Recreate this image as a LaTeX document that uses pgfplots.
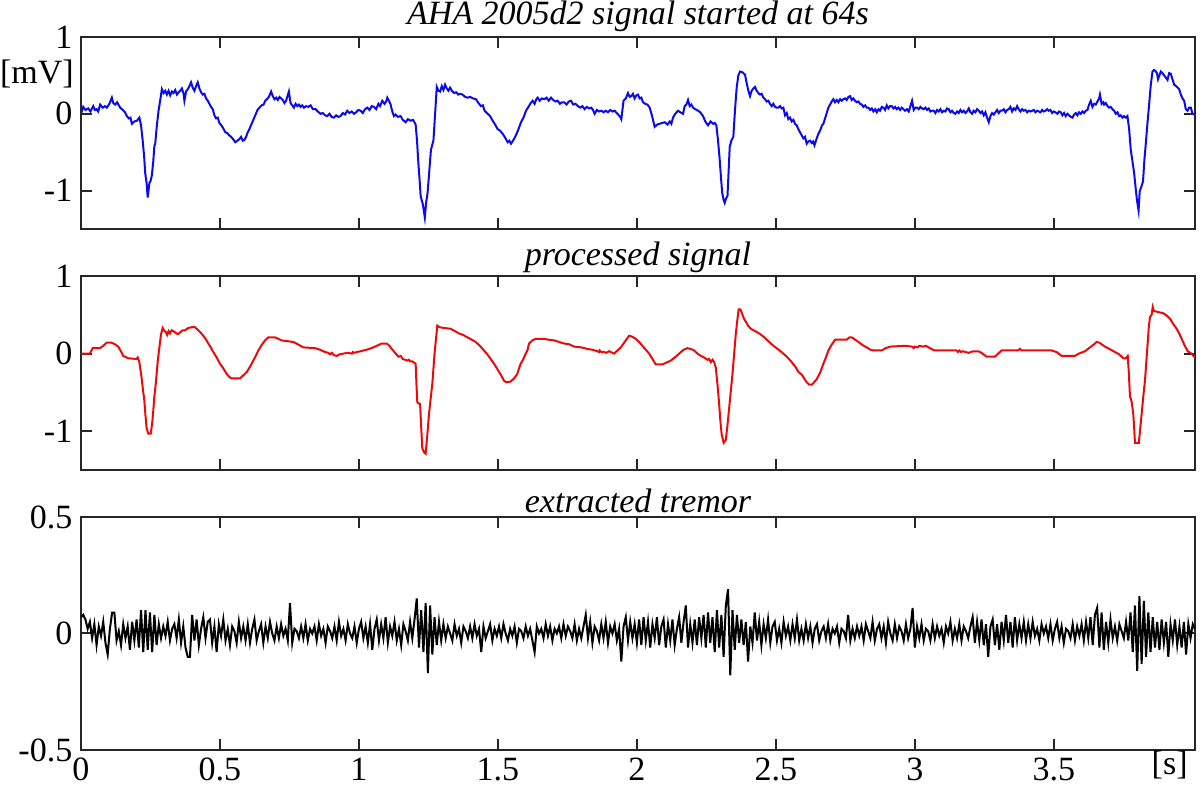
\documentclass[border=0pt]{standalone}
\usepackage{pgfplots}
\pgfplotsset{compat=1.18}
\usepackage{pgfplotstable}
\usepackage{fontspec}
\setmainfont{Liberation Serif}

\pgfplotstableread[row sep=\\,header=false]{
0.07\\ 0.08\\ 0.06\\ 0.02\\ 0.05\\ -0.02\\ 0.04\\ -0.05\\ 0.03\\ -0.01\\ 0.05\\ -0.04\\ -0.09\\ 0.02\\ 0.09\\ 0.09\\ -0.03\\ 0.01\\ -0.05\\ 0.04\\ -0.02\\ 0.03\\ -0.07\\ 0.05\\ -0.03\\
0.06\\ -0.06\\ 0.10\\ -0.08\\ 0.10\\ -0.07\\ 0.09\\ -0.08\\ 0.08\\ -0.05\\ 0.04\\ -0.02\\ 0.03\\ -0.01\\ 0.05\\ -0.03\\ 0.02\\ 0.04\\ -0.02\\ 0.06\\ -0.04\\ 0.03\\ -0.06\\ -0.10\\ -0.10\\
0.08\\ -0.03\\ 0.06\\ -0.05\\ 0.02\\ 0.07\\ -0.02\\ 0.05\\ 0.06\\ -0.04\\ 0.03\\ -0.08\\ 0.04\\ -0.01\\ 0.06\\ -0.03\\ 0.02\\ -0.05\\ 0.03\\ 0.01\\ -0.04\\ 0.05\\ -0.02\\ 0.03\\ -0.03\\
0.04\\ -0.04\\ 0.02\\ 0.06\\ -0.03\\ 0.01\\ 0.04\\ -0.04\\ 0.03\\ -0.02\\ 0.05\\ 0.00\\ -0.03\\ 0.03\\ -0.02\\ 0.04\\ -0.01\\ 0.02\\ -0.03\\ 0.13\\ -0.04\\ 0.02\\ 0.01\\ -0.02\\ 0.03\\
-0.02\\ 0.04\\ -0.03\\ 0.02\\ 0.00\\ 0.03\\ -0.03\\ 0.04\\ -0.01\\ 0.02\\ -0.04\\ 0.03\\ 0.01\\ -0.02\\ 0.03\\ -0.03\\ 0.05\\ -0.01\\ 0.02\\ -0.03\\ 0.04\\ 0.00\\ -0.02\\ 0.03\\ -0.04\\
0.02\\ 0.05\\ -0.02\\ 0.03\\ -0.04\\ 0.04\\ -0.07\\ 0.02\\ 0.06\\ -0.03\\ 0.04\\ -0.02\\ 0.07\\ -0.04\\ 0.03\\ -0.01\\ 0.05\\ -0.03\\ 0.02\\ -0.05\\ 0.04\\ 0.01\\ -0.03\\ 0.05\\ -0.02\\
0.06\\ 0.15\\ -0.06\\ 0.10\\ -0.08\\ 0.13\\ -0.17\\ 0.12\\ -0.09\\ 0.07\\ -0.05\\ 0.05\\ -0.03\\ 0.04\\ -0.02\\ 0.03\\ 0.00\\ -0.03\\ 0.04\\ -0.01\\ 0.02\\ -0.04\\ 0.03\\ 0.01\\ -0.02\\
0.03\\ -0.02\\ 0.04\\ -0.01\\ 0.02\\ -0.08\\ 0.03\\ -0.02\\ 0.01\\ 0.04\\ -0.03\\ 0.02\\ -0.01\\ 0.03\\ -0.02\\ 0.04\\ 0.00\\ -0.03\\ 0.02\\ -0.01\\ 0.03\\ -0.04\\ 0.02\\ 0.01\\ -0.02\\
0.03\\ -0.01\\ 0.02\\ -0.03\\ -0.08\\ 0.03\\ 0.00\\ 0.02\\ -0.02\\ 0.04\\ -0.01\\ 0.03\\ -0.03\\ 0.02\\ 0.00\\ 0.03\\ -0.02\\ 0.04\\ -0.01\\ 0.03\\ 0.01\\ -0.02\\ 0.04\\ -0.03\\ 0.02\\
-0.02\\ 0.03\\ 0.08\\ -0.02\\ 0.05\\ -0.04\\ 0.03\\ 0.01\\ -0.03\\ 0.04\\ -0.02\\ 0.05\\ -0.04\\ 0.03\\ 0.00\\ 0.04\\ -0.03\\ 0.02\\ -0.12\\ 0.03\\ 0.07\\ -0.03\\ 0.05\\ -0.02\\ 0.04\\
-0.04\\ 0.06\\ -0.05\\ 0.07\\ -0.03\\ 0.05\\ -0.06\\ 0.04\\ -0.02\\ 0.07\\ -0.05\\ 0.03\\ 0.06\\ -0.06\\ 0.04\\ -0.03\\ 0.06\\ -0.05\\ 0.02\\ 0.07\\ -0.04\\ 0.05\\ 0.12\\ -0.06\\ 0.04\\
-0.04\\ 0.06\\ -0.05\\ 0.07\\ -0.02\\ 0.08\\ -0.06\\ 0.09\\ -0.04\\ 0.07\\ -0.08\\ 0.10\\ -0.06\\ 0.08\\ -0.10\\ 0.12\\ 0.19\\ -0.18\\ 0.10\\ -0.07\\ 0.08\\ -0.04\\ 0.06\\ -0.05\\ 0.05\\
-0.12\\ 0.03\\ -0.04\\ 0.09\\ -0.03\\ 0.05\\ -0.05\\ 0.04\\ -0.02\\ 0.06\\ -0.04\\ 0.03\\ 0.05\\ -0.03\\ 0.02\\ -0.04\\ 0.05\\ -0.01\\ 0.03\\ -0.03\\ 0.04\\ -0.02\\ 0.06\\ -0.03\\ 0.02\\
-0.03\\ 0.04\\ -0.02\\ 0.03\\ -0.04\\ 0.02\\ 0.04\\ -0.03\\ 0.01\\ 0.03\\ -0.02\\ 0.04\\ -0.03\\ 0.02\\ 0.00\\ 0.03\\ -0.04\\ 0.02\\ 0.01\\ -0.02\\ 0.08\\ -0.03\\ 0.02\\ -0.02\\ 0.03\\
-0.01\\ 0.03\\ -0.03\\ 0.04\\ 0.01\\ -0.02\\ 0.05\\ -0.03\\ 0.02\\ 0.04\\ -0.02\\ 0.03\\ -0.04\\ 0.05\\ 0.00\\ -0.03\\ 0.04\\ -0.02\\ 0.03\\ 0.01\\ -0.03\\ 0.04\\ -0.02\\ 0.02\\ 0.11\\
-0.06\\ 0.03\\ -0.02\\ 0.04\\ -0.03\\ 0.02\\ 0.01\\ -0.03\\ 0.04\\ -0.02\\ 0.03\\ -0.01\\ 0.02\\ -0.04\\ 0.03\\ 0.00\\ 0.05\\ -0.03\\ 0.02\\ -0.02\\ 0.04\\ -0.03\\ 0.03\\ 0.01\\ -0.02\\
0.03\\ 0.07\\ -0.04\\ 0.05\\ -0.03\\ 0.06\\ -0.05\\ 0.04\\ -0.10\\ 0.03\\ 0.06\\ -0.05\\ 0.04\\ -0.07\\ 0.05\\ -0.03\\ 0.08\\ -0.04\\ 0.05\\ -0.06\\ 0.07\\ -0.03\\ 0.04\\ -0.02\\ 0.05\\
-0.03\\ 0.04\\ -0.02\\ 0.05\\ -0.01\\ 0.02\\ -0.03\\ 0.04\\ 0.00\\ 0.03\\ -0.02\\ 0.04\\ -0.03\\ 0.02\\ 0.05\\ -0.02\\ 0.03\\ -0.04\\ 0.02\\ 0.01\\ -0.02\\ 0.04\\ -0.03\\ 0.03\\ -0.01\\
0.04\\ -0.03\\ 0.05\\ -0.02\\ 0.07\\ -0.05\\ 0.08\\ 0.11\\ -0.06\\ 0.09\\ -0.07\\ 0.05\\ -0.04\\ 0.06\\ -0.02\\ 0.03\\ -0.03\\ 0.04\\ 0.01\\ -0.02\\ 0.05\\ -0.03\\ 0.09\\ -0.08\\ 0.12\\
-0.16\\ 0.16\\ -0.13\\ 0.14\\ -0.10\\ 0.09\\ -0.08\\ 0.07\\ -0.06\\ 0.05\\ -0.07\\ 0.06\\ -0.04\\ 0.05\\ -0.10\\ 0.04\\ -0.03\\ 0.06\\ -0.05\\ 0.03\\ -0.06\\ 0.05\\ -0.09\\ 0.04\\ -0.02\\
0.04\\ 0.02\\
}\tremor

\pgfplotsset{
  ecg/.style={
    scale only axis, width=557pt, xmin=0, xmax=4.008,
    axis line style={line width=1pt, black!85},
    every tick/.style={line width=1pt, black!85},
    major tick length=5.5pt,
    tick align=inside,
    xtick={0,0.5,1,1.5,2,2.5,3,3.5},
    /pgf/number format/assume math mode=true,
    yticklabel style={xshift=1.5pt},
    xticklabel style={yshift=2pt},
    title style={font=\itshape, at={(0.5,1)}, anchor=base},
  }
}

\begin{document}
\fontsize{17}{20}\selectfont
\begin{tikzpicture}
\useasboundingbox (-40.5pt,18.5pt) rectangle (559.5pt,-374pt);

\begin{axis}[ecg, at={(0,0)}, anchor=north west, height=96pt,
  ymin=-1.5, ymax=1, ytick={-1,0,1}, xticklabels={},
  title={AHA 2005d2 signal started at 64s}, title style={yshift=0pt}]
\addplot[color={rgb,255:red,10;green,10;blue,235}, line width=1pt] coordinates {
(0,0) (0.008,0.09) (0.016,0.05) (0.026,0.07) (0.034,0.03) (0.044,0.10) (0.050,0.05) (0.056,0.06) (0.062,0.03) (0.069,0.12)
(0.078,0.08) (0.086,0.10) (0.093,0.08) (0.102,0.13) (0.111,0.21) (0.116,0.14) (0.123,0.12) (0.130,0.15) (0.141,0.08) (0.150,0.05)
(0.158,0.02) (0.165,-0.03) (0.172,-0.06) (0.178,-0.05) (0.183,-0.13) (0.192,-0.10) (0.201,-0.09) (0.210,-0.05) (0.216,-0.15) (0.222,-0.35)
(0.227,-0.55) (0.231,-0.77) (0.236,-0.90) (0.240,-1.09) (0.243,-1.00) (0.246,-0.90) (0.250,-0.88) (0.255,-0.80) (0.260,-0.62) (0.264,-0.42)
(0.267,-0.39) (0.273,-0.15) (0.279,0.04) (0.286,0.20) (0.291,0.32) (0.297,0.27) (0.303,0.30) (0.309,0.25) (0.315,0.30) (0.321,0.24)
(0.327,0.29) (0.333,0.27) (0.339,0.31) (0.345,0.25) (0.351,0.28) (0.357,0.30) (0.363,0.33) (0.369,0.26) (0.372,0.17) (0.378,0.29)
(0.384,0.32) (0.390,0.36) (0.396,0.41) (0.402,0.34) (0.408,0.30) (0.414,0.36) (0.420,0.41) (0.426,0.33) (0.432,0.28) (0.438,0.25)
(0.444,0.26) (0.450,0.20) (0.456,0.17) (0.462,0.13) (0.468,0.09) (0.474,0.06) (0.480,-0.02) (0.486,-0.06) (0.492,-0.05) (0.498,-0.12)
(0.505,-0.15) (0.512,-0.19) (0.519,-0.24) (0.526,-0.25) (0.533,-0.28) (0.540,-0.30) (0.547,-0.33) (0.555,-0.37) (0.563,-0.35) (0.570,-0.33)
(0.576,-0.30) (0.582,-0.35) (0.588,-0.34) (0.594,-0.30) (0.600,-0.24) (0.607,-0.19) (0.614,-0.13) (0.621,-0.07) (0.628,-0.01) (0.635,0.05)
(0.642,0.08) (0.650,0.11) (0.657,0.12) (0.663,0.17) (0.669,0.19) (0.676,0.22) (0.684,0.29) (0.690,0.23) (0.696,0.19) (0.702,0.21)
(0.708,0.18) (0.714,0.22) (0.720,0.20) (0.726,0.18) (0.732,0.14) (0.738,0.17) (0.742,0.22) (0.748,0.29) (0.754,0.14) (0.760,0.11)
(0.766,0.08) (0.772,0.13) (0.778,0.10) (0.784,0.12) (0.790,0.09) (0.796,0.11) (0.802,0.08) (0.810,0.10) (0.818,0.09) (0.826,0.11)
(0.834,0.06) (0.844,0.06) (0.852,0.03) (0.862,0.00) (0.870,0.01) (0.878,-0.02) (0.886,-0.03) (0.894,0.00) (0.902,-0.04) (0.910,-0.05)
(0.918,-0.02) (0.926,-0.04) (0.934,-0.03) (0.942,0.01) (0.950,-0.01) (0.958,0.04) (0.966,0.01) (0.974,0.03) (0.982,0.00) (0.990,0.02)
(0.998,0.05) (1.006,0.04) (1.014,0.01) (1.022,0.06) (1.030,0.08) (1.038,0.05) (1.046,0.10) (1.054,0.09) (1.062,0.06) (1.070,0.13)
(1.076,0.10) (1.084,0.17) (1.092,0.13) (1.098,0.16) (1.102,0.21) (1.108,0.17) (1.114,0.12) (1.120,0.03) (1.126,-0.03) (1.132,-0.01)
(1.140,-0.04) (1.150,-0.03) (1.158,-0.08) (1.168,-0.11) (1.176,-0.07) (1.186,-0.09) (1.195,-0.08) (1.204,-0.14) (1.209,-0.35) (1.213,-0.60)
(1.218,-0.85) (1.222,-1.07) (1.230,-1.18) (1.237,-1.35) (1.242,-1.15) (1.247,-1.03) (1.253,-0.75) (1.259,-0.47) (1.264,-0.40) (1.268,-0.35)
(1.274,0.00) (1.280,0.35) (1.286,0.30) (1.292,0.29) (1.298,0.36) (1.304,0.31) (1.310,0.38) (1.316,0.33) (1.322,0.30) (1.328,0.34)
(1.334,0.30) (1.343,0.27) (1.350,0.28) (1.357,0.25) (1.364,0.26) (1.373,0.25) (1.382,0.22) (1.391,0.21) (1.400,0.22) (1.410,0.20)
(1.421,0.19) (1.430,0.14) (1.439,0.10) (1.446,0.11) (1.452,0.04) (1.463,0.00) (1.472,-0.03) (1.481,-0.09) (1.490,-0.14) (1.499,-0.20)
(1.508,-0.22) (1.517,-0.26) (1.526,-0.31) (1.535,-0.37) (1.541,-0.35) (1.547,-0.39) (1.556,-0.34) (1.565,-0.28) (1.574,-0.20) (1.583,-0.11)
(1.592,-0.05) (1.601,0.04) (1.610,0.09) (1.618,0.14) (1.625,0.17) (1.632,0.13) (1.638,0.19) (1.643,0.21) (1.650,0.17) (1.658,0.20)
(1.667,0.19) (1.675,0.21) (1.683,0.17) (1.691,0.21) (1.699,0.18) (1.707,0.16) (1.715,0.17) (1.723,0.13) (1.731,0.15) (1.739,0.15)
(1.747,0.12) (1.755,0.16) (1.763,0.17) (1.771,0.12) (1.779,0.13) (1.788,0.10) (1.796,0.08) (1.804,0.10) (1.812,0.06) (1.820,0.09)
(1.828,0.07) (1.836,0.08) (1.842,0.05) (1.848,0.00) (1.856,0.05) (1.864,0.03) (1.872,0.04) (1.880,0.02) (1.888,0.04) (1.896,0.02)
(1.904,0.05) (1.912,0.03) (1.920,0.04) (1.930,0.00) (1.940,-0.04) (1.944,-0.07) (1.948,0.05) (1.952,0.17) (1.960,0.20) (1.968,0.27)
(1.974,0.22) (1.980,0.23) (1.986,0.26) (1.992,0.20) (1.998,0.24) (2.004,0.25) (2.010,0.20) (2.016,0.21) (2.022,0.15) (2.030,0.13)
(2.038,0.12) (2.046,0.08) (2.054,-0.02) (2.064,-0.17) (2.073,-0.14) (2.082,-0.13) (2.091,-0.12) (2.100,-0.11) (2.110,-0.14) (2.118,-0.10)
(2.124,-0.13) (2.130,-0.05) (2.138,0.00) (2.148,0.04) (2.156,0.02) (2.166,0.00) (2.172,0.10) (2.178,0.12) (2.184,0.18) (2.190,0.10)
(2.196,0.12) (2.202,0.08) (2.210,0.06) (2.220,0.04) (2.228,0.02) (2.238,-0.03) (2.246,-0.10) (2.256,-0.15) (2.265,-0.10) (2.274,-0.13)
(2.280,-0.12) (2.286,-0.15) (2.292,-0.35) (2.298,-0.60) (2.303,-0.85) (2.307,-1.03) (2.312,-1.12) (2.316,-1.16) (2.321,-1.10) (2.326,-1.07)
(2.330,-0.75) (2.334,-0.43) (2.340,-0.35) (2.347,-0.30) (2.353,0.05) (2.359,0.34) (2.365,0.50) (2.371,0.55) (2.380,0.54) (2.389,0.51)
(2.395,0.40) (2.401,0.30) (2.407,0.23) (2.413,0.30) (2.419,0.33) (2.425,0.35) (2.431,0.30) (2.437,0.27) (2.443,0.25) (2.449,0.26)
(2.455,0.21) (2.461,0.19) (2.467,0.16) (2.473,0.17) (2.479,0.13) (2.485,0.10) (2.491,0.13) (2.497,0.09) (2.503,0.08) (2.509,0.08)
(2.515,0.10) (2.521,0.07) (2.527,0.08) (2.533,-0.02) (2.539,0.01) (2.545,-0.07) (2.551,-0.05) (2.557,-0.10) (2.563,-0.08) (2.569,-0.13)
(2.575,-0.15) (2.581,-0.20) (2.587,-0.24) (2.593,-0.28) (2.599,-0.32) (2.605,-0.30) (2.611,-0.39) (2.617,-0.36) (2.623,-0.35) (2.629,-0.38)
(2.634,-0.36) (2.639,-0.41) (2.646,-0.33) (2.653,-0.26) (2.660,-0.21) (2.666,-0.15) (2.671,-0.13) (2.677,-0.06) (2.683,0.01) (2.689,0.08)
(2.695,0.12) (2.701,0.16) (2.707,0.19) (2.713,0.15) (2.719,0.18) (2.725,0.15) (2.731,0.19) (2.737,0.17) (2.743,0.19) (2.749,0.20)
(2.755,0.18) (2.761,0.22) (2.767,0.23) (2.773,0.18) (2.779,0.20) (2.785,0.17) (2.791,0.15) (2.797,0.16) (2.803,0.13) (2.809,0.12)
(2.815,0.09) (2.821,0.11) (2.827,0.08) (2.833,0.08) (2.839,0.05) (2.845,0.07) (2.851,0.03) (2.857,0.06) (2.863,0.02) (2.869,0.06)
(2.875,0.04) (2.881,0.09) (2.887,0.08) (2.893,0.05) (2.899,0.11) (2.905,0.07) (2.911,0.10) (2.917,0.10) (2.923,0.07) (2.929,0.09)
(2.935,0.06) (2.941,0.08) (2.947,0.05) (2.953,0.08) (2.959,0.06) (2.965,0.04) (2.972,0.06) (2.978,0.03) (2.984,0.10) (2.990,0.17)
(2.996,0.05) (3.002,0.08) (3.008,0.08) (3.014,0.06) (3.020,0.09) (3.026,0.07) (3.032,0.06) (3.038,0.08) (3.044,0.05) (3.050,0.07)
(3.056,0.03) (3.062,0.04) (3.068,0.04) (3.074,0.01) (3.080,0.05) (3.086,0.03) (3.092,0.06) (3.098,0.02) (3.104,0.04) (3.110,0.03)
(3.116,0.07) (3.122,0.06) (3.128,0.02) (3.134,0.04) (3.140,0.01) (3.146,0.00) (3.152,0.03) (3.158,0.01) (3.164,0.05) (3.170,0.02)
(3.176,0.04) (3.182,0.01) (3.188,0.03) (3.194,0.07) (3.200,0.02) (3.206,0.00) (3.212,0.04) (3.218,0.02) (3.224,0.06) (3.230,0.04)
(3.236,0.01) (3.242,0.03) (3.248,-0.02) (3.254,0.02) (3.260,-0.05) (3.266,-0.11) (3.272,-0.03) (3.278,0.01) (3.284,-0.01) (3.290,0.02)
(3.296,0.05) (3.302,0.01) (3.308,0.04) (3.314,0.04) (3.320,0.06) (3.326,0.02) (3.332,0.05) (3.338,0.06) (3.344,0.09) (3.350,0.03)
(3.356,0.07) (3.362,0.05) (3.368,0.10) (3.374,0.06) (3.380,0.03) (3.386,0.06) (3.392,0.04) (3.398,0.05) (3.404,0.02) (3.410,0.04)
(3.416,0.03) (3.422,0.04) (3.428,0.05) (3.434,0.02) (3.440,0.04) (3.446,0.03) (3.452,0.02) (3.458,0.05) (3.464,0.03) (3.470,0.04)
(3.476,0.06) (3.482,0.04) (3.488,0.05) (3.494,0.01) (3.500,0.03) (3.506,0.02) (3.513,0.00) (3.519,0.03) (3.525,0.02) (3.531,-0.02)
(3.537,0.01) (3.543,-0.03) (3.549,0.00) (3.555,-0.02) (3.561,-0.04) (3.567,-0.05) (3.573,-0.01) (3.579,0.01) (3.585,-0.02) (3.591,0.02)
(3.597,0.00) (3.603,0.03) (3.609,0.01) (3.615,0.04) (3.621,0.05) (3.627,0.12) (3.633,0.17) (3.639,0.09) (3.645,0.13) (3.651,0.12)
(3.657,0.16) (3.663,0.20) (3.666,0.25) (3.672,0.13) (3.678,0.15) (3.681,0.12) (3.687,0.14) (3.693,0.10) (3.699,0.08) (3.705,0.09)
(3.711,0.06) (3.717,0.04) (3.723,0.00) (3.729,0.02) (3.735,-0.03) (3.741,-0.02) (3.747,-0.05) (3.753,-0.03) (3.759,-0.05) (3.765,-0.03)
(3.771,-0.20) (3.777,-0.47) (3.783,-0.62) (3.789,-0.77) (3.794,-0.95) (3.799,-1.12) (3.805,-1.26) (3.809,-1.01) (3.815,-0.95) (3.821,-0.88)
(3.826,-0.60) (3.831,-0.39) (3.837,-0.12) (3.843,0.12) (3.849,0.38) (3.855,0.55) (3.860,0.57) (3.865,0.56) (3.871,0.53) (3.875,0.45)
(3.879,0.49) (3.885,0.55) (3.891,0.53) (3.897,0.50) (3.903,0.47) (3.909,0.44) (3.915,0.53) (3.921,0.52) (3.927,0.45) (3.933,0.38)
(3.940,0.36) (3.946,0.34) (3.951,0.32) (3.957,0.25) (3.963,0.20) (3.969,0.17) (3.975,0.06) (3.981,0.04) (3.987,0.08) (3.993,0.08)
(3.999,0.00) (4.008,-0.01)
};
\end{axis}
\node at (-22pt,-18.5pt) {[mV]};

\begin{axis}[ecg, at={(0,-119.5pt)}, anchor=north west, height=97pt,
  ymin=-1.5, ymax=1, ytick={-1,0,1}, xticklabels={},
  title={processed signal}, title style={yshift=-1pt}]
\addplot[color={rgb,255:red,235;green,10;blue,10}, line width=1pt] coordinates {
(0,0) (0.032,0) (0.042,0.07) (0.068,0.07) (0.080,0.10) (0.092,0.14) (0.110,0.14) (0.122,0.12) (0.134,0.09) (0.145,0.02)
(0.152,-0.03) (0.170,-0.06) (0.200,-0.07) (0.204,-0.05) (0.210,-0.11) (0.218,-0.31) (0.224,-0.50) (0.227,-0.57) (0.232,-0.80) (0.236,-0.96)
(0.242,-1.03) (0.251,-1.03) (0.256,-0.90) (0.260,-0.74) (0.264,-0.55) (0.269,-0.39) (0.276,-0.10) (0.282,0.08) (0.288,0.25) (0.294,0.33)
(0.300,0.29) (0.305,0.28) (0.310,0.24) (0.315,0.29) (0.320,0.26) (0.326,0.30) (0.332,0.29) (0.340,0.27) (0.348,0.25) (0.356,0.27)
(0.365,0.30) (0.374,0.30) (0.386,0.33) (0.398,0.34) (0.410,0.34) (0.416,0.32) (0.428,0.28) (0.440,0.23) (0.450,0.18) (0.458,0.13)
(0.467,0.08) (0.476,0.02) (0.488,-0.05) (0.500,-0.13) (0.512,-0.19) (0.524,-0.26) (0.533,-0.30) (0.542,-0.32) (0.572,-0.32) (0.584,-0.28)
(0.596,-0.24) (0.608,-0.17) (0.620,-0.09) (0.630,-0.02) (0.638,0.04) (0.650,0.11) (0.662,0.17) (0.674,0.21) (0.698,0.21) (0.710,0.19)
(0.722,0.17) (0.764,0.15) (0.780,0.12) (0.800,0.08) (0.842,0.07) (0.860,0.05) (0.878,0.02) (0.890,0.01) (0.896,-0.01) (0.902,0.01)
(0.910,-0.02) (0.920,-0.03) (0.930,-0.01) (0.944,0.00) (0.960,0.01) (0.975,0.00) (0.978,0.02) (0.982,0.01) (1.028,0.05) (1.052,0.08)
(1.070,0.11) (1.082,0.13) (1.100,0.13) (1.110,0.10) (1.118,0.06) (1.130,0.01) (1.142,-0.04) (1.150,-0.03) (1.158,-0.07) (1.174,-0.09)
(1.180,-0.08) (1.184,-0.10) (1.192,-0.10) (1.200,-0.12) (1.204,-0.13) (1.207,-0.40) (1.210,-0.63) (1.220,-0.65) (1.224,-0.95) (1.228,-1.22)
(1.234,-1.27) (1.240,-1.29) (1.246,-1.05) (1.252,-0.78) (1.258,-0.58) (1.264,-0.39) (1.272,0.00) (1.282,0.36) (1.290,0.34) (1.306,0.33)
(1.330,0.32) (1.345,0.29) (1.360,0.26) (1.375,0.24) (1.390,0.21) (1.405,0.18) (1.420,0.15) (1.435,0.10) (1.450,0.04) (1.462,-0.01)
(1.474,-0.07) (1.486,-0.13) (1.498,-0.20) (1.510,-0.27) (1.522,-0.35) (1.530,-0.37) (1.546,-0.36) (1.558,-0.32) (1.570,-0.26) (1.576,-0.19)
(1.582,-0.13) (1.590,-0.08) (1.600,0.00) (1.606,0.04) (1.612,0.13) (1.624,0.17) (1.636,0.19) (1.666,0.19) (1.680,0.18) (1.702,0.17)
(1.720,0.15) (1.738,0.13) (1.756,0.12) (1.774,0.09) (1.800,0.08) (1.822,0.06) (1.840,0.05) (1.858,0.03) (1.864,0.02) (1.866,0.04)
(1.872,0.02) (1.882,0.02) (1.890,0.01) (1.900,0.03) (1.918,0.00) (1.930,0.04) (1.942,0.08) (1.958,0.16) (1.972,0.23) (1.982,0.22)
(1.996,0.19) (2.008,0.15) (2.020,0.10) (2.032,0.05) (2.044,0.00) (2.056,-0.07) (2.068,-0.14) (2.092,-0.14) (2.110,-0.11) (2.122,-0.09)
(2.140,-0.04) (2.152,0.00) (2.168,0.05) (2.182,0.07) (2.194,0.06) (2.206,0.04) (2.218,0.00) (2.230,-0.03) (2.242,-0.05) (2.254,-0.08)
(2.260,-0.07) (2.266,-0.11) (2.272,-0.08) (2.278,-0.11) (2.284,-0.18) (2.290,-0.40) (2.296,-0.65) (2.300,-0.85) (2.305,-1.04) (2.312,-1.15)
(2.320,-1.11) (2.326,-0.92) (2.332,-0.70) (2.338,-0.48) (2.344,-0.26) (2.350,0.00) (2.356,0.26) (2.362,0.45) (2.366,0.57) (2.372,0.57)
(2.378,0.52) (2.384,0.46) (2.392,0.41) (2.400,0.36) (2.410,0.32) (2.425,0.29) (2.440,0.26) (2.455,0.22) (2.470,0.17) (2.488,0.11)
(2.506,0.06) (2.524,0.01) (2.542,-0.05) (2.557,-0.11) (2.572,-0.18) (2.582,-0.24) (2.593,-0.27) (2.602,-0.32) (2.611,-0.37) (2.620,-0.40)
(2.630,-0.40) (2.647,-0.33) (2.660,-0.24) (2.671,-0.13) (2.680,-0.05) (2.689,0.04) (2.700,0.11) (2.713,0.18) (2.755,0.18) (2.765,0.21)
(2.773,0.21) (2.785,0.18) (2.797,0.15) (2.812,0.11) (2.827,0.08) (2.840,0.05) (2.851,0.04) (2.881,0.04) (2.895,0.07) (2.911,0.09)
(2.965,0.10) (2.990,0.09) (2.996,0.07) (3.000,0.09) (3.010,0.08) (3.016,0.10) (3.030,0.09) (3.040,0.10) (3.049,0.08) (3.060,0.06)
(3.070,0.04) (3.150,0.04) (3.155,0.02) (3.160,0.04) (3.166,0.02) (3.172,0.03) (3.193,0.01) (3.210,0.03) (3.229,0.03) (3.240,0.01)
(3.258,-0.04) (3.288,-0.04) (3.300,0.00) (3.312,0.04) (3.370,0.04) (3.378,0.06) (3.384,0.04) (3.492,0.04) (3.510,0.02) (3.528,-0.03)
(3.576,-0.03) (3.590,0.00) (3.612,0.03) (3.630,0.08) (3.645,0.12) (3.654,0.15) (3.664,0.14) (3.684,0.09) (3.700,0.06) (3.720,0.02)
(3.735,-0.01) (3.750,-0.06) (3.758,-0.06) (3.766,-0.03) (3.770,-0.25) (3.774,-0.55) (3.780,-0.62) (3.786,-0.78) (3.789,-0.95) (3.792,-1.15)
(3.806,-1.15) (3.810,-1.00) (3.816,-0.78) (3.822,-0.55) (3.828,-0.35) (3.836,0.05) (3.842,0.35) (3.846,0.47) (3.852,0.50) (3.856,0.60)
(3.860,0.55) (3.870,0.54) (3.894,0.52) (3.906,0.49) (3.918,0.45) (3.930,0.38) (3.942,0.32) (3.951,0.26) (3.960,0.19) (3.970,0.11)
(3.982,0.03) (3.995,0.00) (4.008,-0.05)
};
\end{axis}

\begin{axis}[ecg, name=bot, at={(0,-240pt)}, anchor=north west, height=116.5pt,
  ymin=-0.5, ymax=0.5, ytick={-0.5,0,0.5},
  title={extracted tremor}, title style={yshift=-4pt}]
\addplot[black, line width=1pt] table[x expr=\coordindex*0.008, y index=0] {\tremor};
\end{axis}
\node[anchor=base east, inner sep=0pt] at (553.5pt,-369pt) {[s]};
\end{tikzpicture}
\end{document}
